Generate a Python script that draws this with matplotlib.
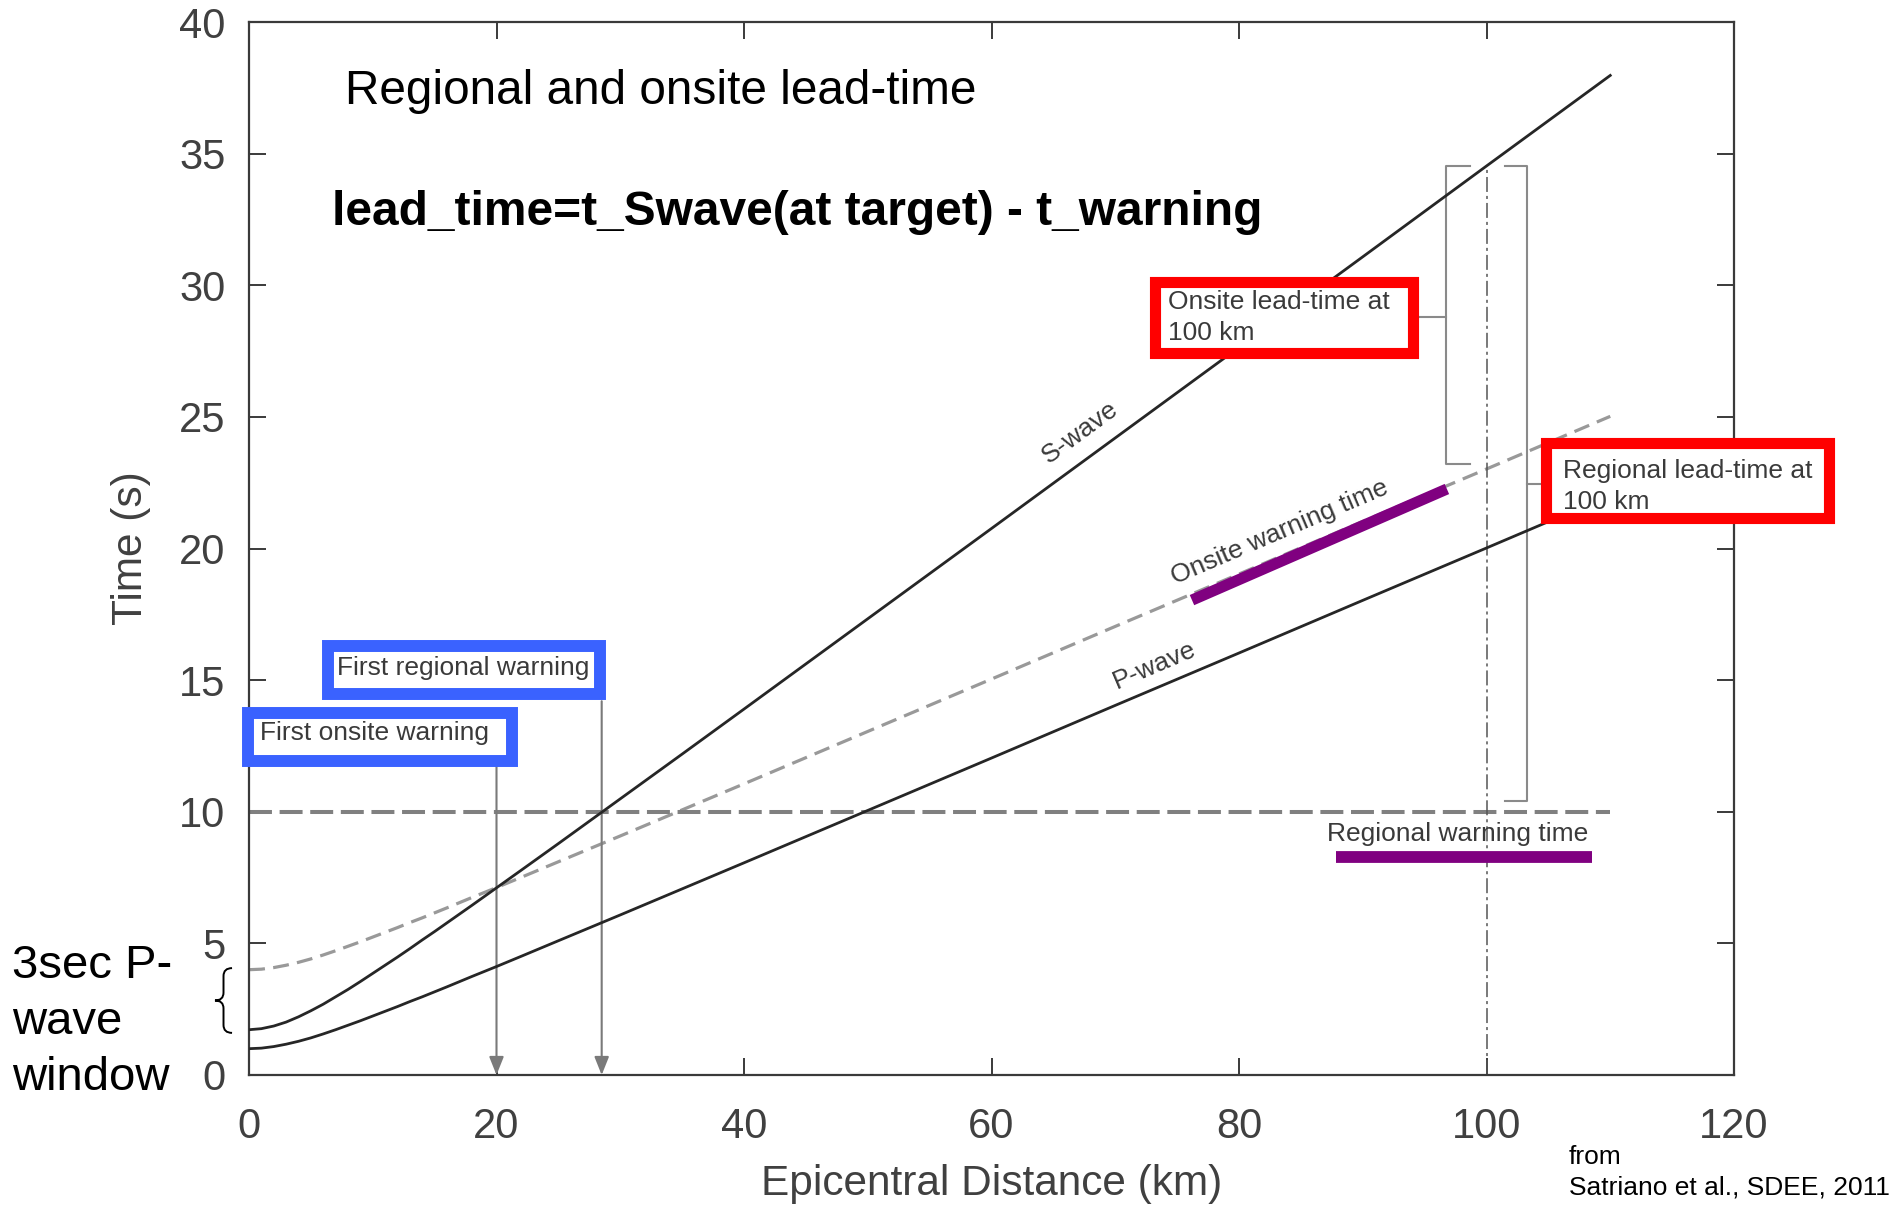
import numpy as np
import matplotlib
matplotlib.use("Agg")
import matplotlib.pyplot as plt
from matplotlib.patches import Rectangle, PathPatch
from matplotlib.path import Path

plt.rcParams['font.family'] = ['Liberation Sans', 'DejaVu Sans']

# ---------------- data ----------------
distance_km = [0, 1, 2, 3, 4, 5, 6, 7, 8, 9, 10, 11, 12, 13, 14, 15, 16, 18, 20, 22, 25,
               30, 35, 40, 50, 60, 70, 80, 90, 100, 110]
p_wave_s = [1.00, 1.02, 1.08, 1.17, 1.28, 1.41, 1.56, 1.72, 1.89, 2.06, 2.24, 2.42, 2.60,
            2.79, 2.97, 3.16, 3.35, 3.74, 4.12, 4.51, 5.10, 6.08, 7.07, 8.06, 10.05,
            12.04, 14.04, 16.03, 18.03, 20.02, 22.02]
s_wave_s = [1.72, 1.76, 1.86, 2.01, 2.21, 2.44, 2.69, 2.97, 3.25, 3.55, 3.86, 4.17, 4.48,
            4.80, 5.13, 5.45, 5.78, 6.44, 7.11, 7.78, 8.79, 10.49, 12.19, 13.90, 17.33,
            20.76, 24.20, 27.64, 31.08, 34.53, 37.97]
onsite_warning_s = [4.00, 4.02, 4.08, 4.17, 4.28, 4.41, 4.56, 4.72, 4.89, 5.06, 5.24, 5.42,
                    5.60, 5.79, 5.97, 6.16, 6.35, 6.74, 7.12, 7.51, 8.10, 9.08, 10.07,
                    11.06, 13.05, 15.04, 17.04, 19.03, 21.03, 23.02, 25.02]
regional_warning_x = [0, 110]
regional_warning_s = [10, 10]

target_km = 100
first_onsite_km = 20
first_regional_km = 28.5
onsite_arrow_top = 13.6
regional_arrow_top = 14.2

onsite_purple_x = [76.2, 96.8]
onsite_purple_y = [18.04, 22.26]
regional_purple_x = [87.8, 108.5]
regional_purple_y = [8.3, 8.3]

xticks = [0, 20, 40, 60, 80, 100, 120]
yticks = [0, 5, 10, 15, 20, 25, 30, 35, 40]

# ---------------- figure ----------------
W, H = 1897, 1205
fig = plt.figure(figsize=(W / 100, H / 100), dpi=100)
ax = fig.add_axes([249 / W, 1 - 1075 / H, 1485 / W, 1053 / H])
ax.set_xlim(0, 120)
ax.set_ylim(0, 40)

spine_c = '#3a3a3a'
for s in ax.spines.values():
    s.set_color(spine_c)
    s.set_linewidth(1.6)
ax.set_xticks(xticks)
ax.set_yticks(yticks)
ax.tick_params(direction='in', length=12, width=1.4, color=spine_c,
               labelsize=30, labelcolor='#404040', top=True, right=True)
ax.tick_params(axis='x', pad=23)
ax.tick_params(axis='y', pad=17)

ax.set_xlabel('Epicentral Distance (km)', fontsize=30.5, color='#404040', va='center')
ax.xaxis.set_label_coords(0.5, -0.1031)
ax.set_ylabel('Time (s)', fontsize=30.5, color='#404040', va='center')
ax.yaxis.set_label_coords(-0.0795, 0.5)

# curves
line_c = '#262626'
ax.plot(distance_km, s_wave_s, color=line_c, lw=2.0, zorder=3)
ax.plot(distance_km, p_wave_s, color=line_c, lw=2.0, zorder=3)
ax.plot(distance_km, onsite_warning_s, color='#999999', lw=2.3, dashes=(5, 2.6), zorder=2)
ax.plot(regional_warning_x, regional_warning_s, color='#808080', lw=2.9,
        dashes=(5.7, 1.9), zorder=2)

# vertical dash-dot at target distance
s_at_target = s_wave_s[distance_km.index(target_km)]
ax.plot([target_km, target_km], [0, s_at_target], color='#555555', lw=1.1,
        dashes=(9.8, 2.6, 2, 2.6), zorder=2)

# brackets
br_c = '#8a8a8a'
ax.plot([98.7, 96.7, 96.7, 98.7], [s_at_target, s_at_target, 23.2, 23.2], color=br_c, lw=1.5, zorder=2)
ax.plot([94.6, 96.7], [28.8, 28.8], color=br_c, lw=1.5, zorder=2)
ax.plot([101.5, 103.3, 103.3, 101.5], [s_at_target, s_at_target, 10.4, 10.4], color=br_c, lw=1.5, zorder=2)
ax.plot([103.3, 104.8], [22.45, 22.45], color=br_c, lw=1.5, zorder=2, clip_on=False)

# arrows
for xk, top in [(first_onsite_km, onsite_arrow_top), (first_regional_km, regional_arrow_top)]:
    ax.annotate('', xy=(xk, 0), xytext=(xk, top),
                arrowprops=dict(arrowstyle='-|>,head_length=0.55,head_width=0.22',
                                color='#7a7a7a', lw=1.5, mutation_scale=20,
                                shrinkA=0, shrinkB=0), zorder=2)

# purple highlight bars
ax.plot(onsite_purple_x, onsite_purple_y, color='#800080', lw=8, solid_capstyle='butt', zorder=4)
ax.plot(regional_purple_x, regional_purple_y, color='#800080', lw=8.5, solid_capstyle='butt', zorder=4)

# curve labels
lab_c = '#3a3a3a'
def angle_of(xs, ys, i0, i1):
    p0 = ax.transData.transform((xs[i0], ys[i0]))
    p1 = ax.transData.transform((xs[i1], ys[i1]))
    return np.degrees(np.arctan2(p1[1] - p0[1], p1[0] - p0[0]))

i60, i70 = distance_km.index(60), distance_km.index(70)
ang_s = angle_of(distance_km, s_wave_s, i60, i70)
ang_p = angle_of(distance_km, p_wave_s, i60, i70)
ax.text(67.2, 24.4, 'S-wave', fontsize=19, color=lab_c, rotation=ang_s,
        ha='center', va='center', rotation_mode='anchor')
ax.text(73.2, 15.57, 'P-wave', fontsize=19, color=lab_c, rotation=ang_p,
        ha='center', va='center', rotation_mode='anchor')
ax.text(83.3, 20.6, 'Onsite warning time', fontsize=19, color=lab_c, rotation=ang_p,
        ha='center', va='center', rotation_mode='anchor')
ax.text(97.7, 9.16, 'Regional warning time', fontsize=19, color=lab_c,
        ha='center', va='center')

# titles
ax.text(7.76, 37.36, 'Regional and onsite lead-time', fontsize=34.4, color='black',
        ha='left', va='center')
ax.text(6.67, 32.76, 'lead_time=t_Swave(at target) - t_warning', fontsize=34.5,
        fontweight='bold', color='black', ha='left', va='center')

# boxed annotations
red = '#ff0000'
blue = '#3a62ff'
boxes = [
    ((73.2, 27.41), 94.1 - 73.2, 30.14 - 27.41, red, 8.0),
    ((104.8, 21.14), 127.7 - 104.8, 23.99 - 21.14, red, 8.0),
    ((6.4, 14.47), 28.4 - 6.4, 16.3 - 14.47, blue, 8.6),
    ((-0.1, 11.93), 21.25 + 0.1, 13.75 - 11.93, blue, 8.6),
]
for xy, w, h, c, lw in boxes:
    ax.add_patch(Rectangle(xy, w, h, facecolor='white', edgecolor=c, lw=lw,
                           zorder=6, clip_on=False, joinstyle='miter'))

ax.text(74.3, 28.78, 'Onsite lead-time at\n100 km', fontsize=19, color=lab_c,
        ha='left', va='center', zorder=7, linespacing=1.38)
ax.text(106.2, 22.35, 'Regional lead-time at\n100 km', fontsize=19, color=lab_c,
        ha='left', va='center', zorder=7, linespacing=1.38, clip_on=False)
ax.text(7.1, 15.46, 'First regional warning', fontsize=19, color=lab_c,
        ha='left', va='center', zorder=7)
ax.text(0.9, 13.0, 'First onsite warning', fontsize=19, color=lab_c,
        ha='left', va='center', zorder=7)

# brace for the 3 s P-wave window
xl, xr = -2.75, -1.37
xm = (xl + xr) / 2
yt, yb = 4.06, 1.6
ym = (yt + yb) / 2
d = 0.3
verts = [(xr, yt), (xm, yt), (xm, yt - d), (xm, ym + d), (xm, ym), (xl, ym),
         (xm, ym), (xm, ym - d), (xm, yb + d), (xm, yb), (xr, yb)]
codes = [Path.MOVETO, Path.CURVE3, Path.CURVE3, Path.LINETO, Path.CURVE3, Path.CURVE3,
         Path.CURVE3, Path.CURVE3, Path.LINETO, Path.CURVE3, Path.CURVE3]
ax.add_patch(PathPatch(Path(verts, codes), facecolor='none', edgecolor='black',
                       lw=1.4, clip_on=False))

fig.text(12 / W, 1 - 1022 / H, '3sec P-\nwave\nwindow', fontsize=34, color='black',
         ha='left', va='center', linespacing=1.34)
fig.text(1569 / W, 1 - 1172 / H, 'from\nSatriano et al., SDEE, 2011', fontsize=19,
         color='black', ha='left', va='center', linespacing=1.33)

fig.savefig('out.png', dpi=100, facecolor='white')
